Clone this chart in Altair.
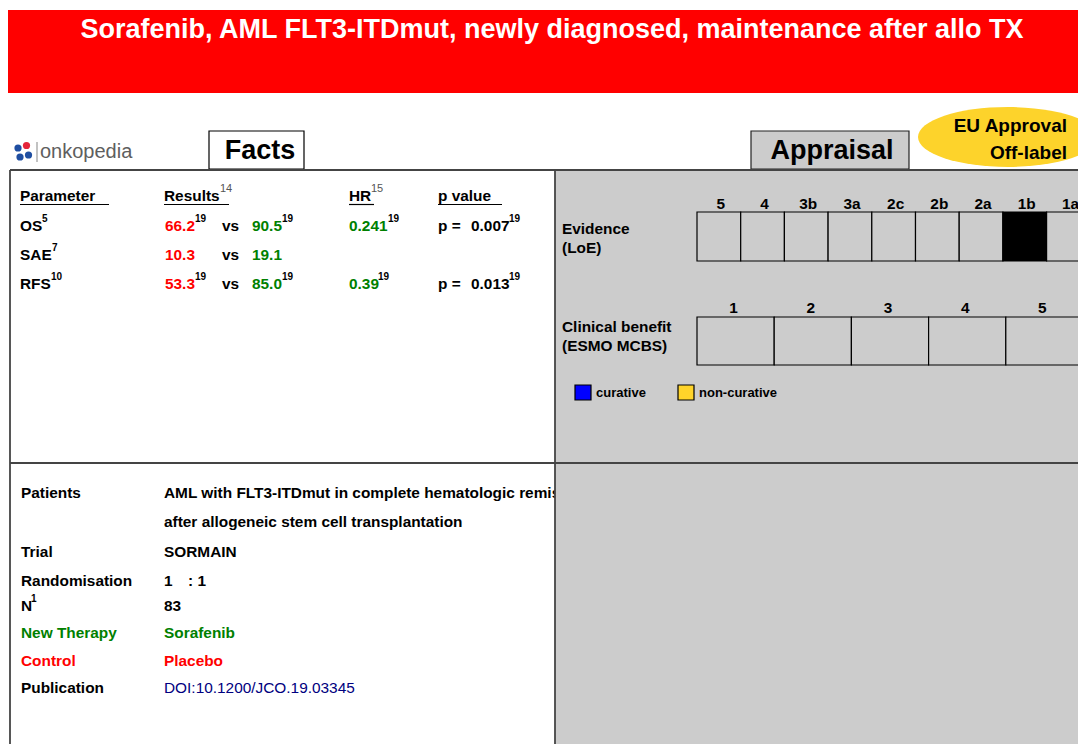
import altair as alt
import pandas as pd

# ---------------- data ----------------
title = "Sorafenib, AML FLT3-ITDmut, newly diagnosed, maintenance after allo TX"

params = ["OS", "SAE", "RFS"]
param_sup = ["5", "7", "10"]
control_vals = ["66.2", "10.3", "53.3"]
control_sup = ["19", "", "19"]
new_vals = ["90.5", "19.1", "85.0"]
new_sup = ["19", "", "19"]
hr_vals = ["0.241", "", "0.39"]
hr_sup = ["19", "", "19"]
p_vals = ["0.007", "", "0.013"]
p_sup = ["19", "", "19"]

loe_levels = ["5", "4", "3b", "3a", "2c", "2b", "2a", "1b", "1a"]
loe_selected = "1b"
esmo_levels = ["1", "2", "3", "4", "5"]
esmo_selected = None
legend_labels = ["curative", "non-curative"]
legend_colors = ["#0000ff", "#ffd42a"]

facts_labels = ["Patients", "", "Trial", "Randomisation", "N", "New Therapy", "Control", "Publication"]
facts_values = ["AML with FLT3-ITDmut in complete hematologic remission",
                "after allogeneic stem cell transplantation",
                "SORMAIN", "1", "83", "Sorafenib", "Placebo", "DOI:10.1200/JCO.19.03345"]
approval = ["EU Approval", "Off-label"]

# ---------------- styling ----------------
RED = "#ff0000"
GREEN = "#008000"
BLACK = "#000000"
FONT = "Liberation Sans"
FS = 15.4

X = lambda f="x": alt.X(f"{f}:Q", scale=alt.Scale(domain=[8, 1078]), axis=None)
Y = lambda f="y": alt.Y(f"{f}:Q", scale=alt.Scale(domain=[8, 744], reverse=True), axis=None)


def text_layer(rows, weight="bold", align="left"):
    df = pd.DataFrame(rows, columns=["x", "y", "text", "color", "size"])
    return alt.Chart(df).mark_text(align=align, baseline="middle", font=FONT,
                                   fontWeight=weight).encode(
        x=X(), y=Y(), text="text:N",
        color=alt.Color("color:N", scale=None),
        size=alt.Size("size:Q", scale=None))


def rect_layer(rows, stroke_width=0):
    df = pd.DataFrame(rows, columns=["x", "x2", "y", "y2", "fill", "stroke"])
    return alt.Chart(df).mark_rect(strokeWidth=stroke_width).encode(
        x=X(), x2="x2:Q", y=Y(), y2="y2:Q",
        fill=alt.Fill("fill:N", scale=None),
        stroke=alt.Stroke("stroke:N", scale=None))


def rule_layer(rows, width=1.5):
    df = pd.DataFrame(rows, columns=["x", "x2", "y", "y2", "color"])
    return alt.Chart(df).mark_rule(strokeWidth=width).encode(
        x=X(), x2="x2:Q", y=Y(), y2="y2:Q",
        color=alt.Color("color:N", scale=None))


# ---------------- header ----------------
banner = rect_layer([[8, 1090, 10, 93, RED, RED]])
boxes = rect_layer([[209, 304, 131, 169, "#ffffff", "#000000"],
                    [751, 909, 131, 169, "#cccccc", "#222222"]], stroke_width=1.2)

ellipse_path = ("M-1,0 C-1,-0.184 -0.552,-0.333 0,-0.333 C0.552,-0.333 1,-0.184 1,0 "
                "C1,0.184 0.552,0.333 0,0.333 C-0.552,0.333 -1,0.184 -1,0 Z")
ellipse = alt.Chart(pd.DataFrame({"x": [1008], "y": [137]})).mark_point(
    shape=ellipse_path, filled=True, opacity=1, size=180 ** 2, color="#fdd32b",
    strokeWidth=0).encode(x=X(), y=Y())

logo_dots = alt.Chart(pd.DataFrame({
    "x": [18, 26.5, 20, 28.5], "y": [148, 145.5, 157, 155],
    "c": ["#1f4ea1", "#e5253a", "#1f4ea1", "#1f4ea1"]})).mark_circle(
    size=52, opacity=1).encode(x=X(), y=Y(), color=alt.Color("c:N", scale=None))

title_txt = text_layer([[552, 30, title, "#ffffff", 27]], align="center")
head_txt = text_layer([[260, 151, "Facts", BLACK, 27],
                       [832, 151, "Appraisal", BLACK, 27]], align="center")
appr_txt = text_layer([[1067, 126, approval[0], BLACK, 19],
                       [1067, 153, approval[1], BLACK, 19]], align="right")
logo_txt = text_layer([[40, 152, "onkopedia", "#5e5e5e", 20]], weight="normal")

# ---------------- left panel: results ----------------
res_rows = [[20, 196, "Parameter", BLACK, FS], [164, 196, "Results", BLACK, FS],
            [349, 196, "HR", BLACK, FS], [438, 196, "p value", BLACK, FS]]
sup_rows = []
row_y = [226, 255, 284]
param_sup_x = [42, 52, 51]
hr_sup_x = [388, 0, 378]
for i, p in enumerate(params):
    y = row_y[i]
    res_rows.append([20, y, p, BLACK, FS])
    sup_rows.append([param_sup_x[i], y - 7, param_sup[i], BLACK, 10])
    res_rows.append([165, y, control_vals[i], RED, FS])
    sup_rows.append([195, y - 7, control_sup[i], BLACK, 10])
    res_rows.append([222, y, "vs", BLACK, FS])
    res_rows.append([252, y, new_vals[i], GREEN, FS])
    sup_rows.append([282, y - 7, new_sup[i], BLACK, 10])
    if hr_vals[i]:
        res_rows.append([349, y, hr_vals[i], GREEN, FS])
        sup_rows.append([hr_sup_x[i], y - 7, hr_sup[i], BLACK, 10])
    if p_vals[i]:
        res_rows.append([438, y, "p =", BLACK, FS])
        res_rows.append([471, y, p_vals[i], BLACK, FS])
        sup_rows.append([509, y - 7, p_sup[i], BLACK, 10])
sup_rows = [r for r in sup_rows if r[2]]
res_txt = text_layer(res_rows)
sup_txt = text_layer(sup_rows)
head_sup = text_layer([[220, 189, "14", "#555555", 11], [371, 189, "15", "#555555", 11]],
                      weight="normal")

# ---------------- left panel: facts ----------------
facts_y = [493, 522, 552, 581, 606, 633, 661, 688]
label_colors = [BLACK, BLACK, BLACK, BLACK, BLACK, GREEN, RED, BLACK]
value_colors = [BLACK, BLACK, BLACK, BLACK, BLACK, GREEN, RED, "#000080"]
f_rows, f_norm = [], []
for i, (lab, val) in enumerate(zip(facts_labels, facts_values)):
    if lab:
        f_rows.append([21, facts_y[i], lab, label_colors[i], FS])
    if lab == "Publication":
        f_norm.append([164, facts_y[i], val, value_colors[i], FS])
    else:
        f_rows.append([164, facts_y[i], val, value_colors[i], FS])
f_rows.append([188, 581, ": 1", BLACK, FS])
f_rows.append([31, 599, "1", BLACK, 10])
facts_txt = text_layer(f_rows)
facts_norm = text_layer(f_norm, weight="normal")

# ---------------- right panel ----------------
gray_panel = rect_layer([[555, 1090, 170, 760, "#cccccc", "#cccccc"]])

loe_x0, loe_w = 697, 43.7
loe_cells = []
loe_lab = []
for i, lv in enumerate(loe_levels):
    xa = loe_x0 + i * loe_w
    loe_cells.append([xa, xa + loe_w, 212, 261, BLACK if lv == loe_selected else "#cccccc", BLACK])
    loe_lab.append([xa + loe_w / 2 + 2, 204, lv, BLACK, FS])

esmo_x0, esmo_w = 697, 77.2
esmo_cells = []
esmo_lab = []
for i, lv in enumerate(esmo_levels):
    xa = esmo_x0 + i * esmo_w
    esmo_cells.append([xa, xa + esmo_w, 317, 365, BLACK if lv == esmo_selected else "#cccccc", BLACK])
    esmo_lab.append([xa + esmo_w / 2 - 2, 308, lv, BLACK, FS])

leg_x = [575, 678]
leg_cells = [[leg_x[i], leg_x[i] + 16, 385, 400, legend_colors[i], BLACK] for i in range(2)]
leg_txt_rows = [[leg_x[i] + 21, 393, legend_labels[i], BLACK, 13] for i in range(2)]

grid = rect_layer(loe_cells + esmo_cells + leg_cells, stroke_width=1.2)
grid_lab = text_layer(loe_lab + esmo_lab, align="center")
right_txt = text_layer([[562, 229, "Evidence", BLACK, FS], [562, 248, "(LoE)", BLACK, FS],
                        [562, 327, "Clinical benefit", BLACK, FS],
                        [562, 346, "(ESMO MCBS)", BLACK, FS]] + leg_txt_rows)

# ---------------- rules ----------------
borders = rule_layer([[10, 1090, 170, 170, "#444444"],
                      [10, 10, 170, 760, "#444444"],
                      [555, 555, 170, 760, "#444444"],
                      [10, 1090, 463, 463, "#444444"]], width=1.8)
underlines = rule_layer([[20, 109, 204.5, 204.5, BLACK], [164, 229, 204.5, 204.5, BLACK],
                         [349, 374, 204.5, 204.5, BLACK], [438, 502, 204.5, 204.5, BLACK],
                         [37, 37, 142, 162, "#999999"]], width=1.2)

chart = alt.layer(
    banner, boxes, ellipse, logo_dots,
    res_txt, sup_txt, head_sup, facts_txt, facts_norm,
    gray_panel, grid, borders, underlines,
    title_txt, head_txt, appr_txt, logo_txt, grid_lab, right_txt,
).properties(
    width=1070, height=736,
    autosize=alt.AutoSizeParams(type="none"),
    padding=0,
).configure_view(stroke=None)

chart.save("out.html", embed_options={"renderer": "svg", "actions": False})
